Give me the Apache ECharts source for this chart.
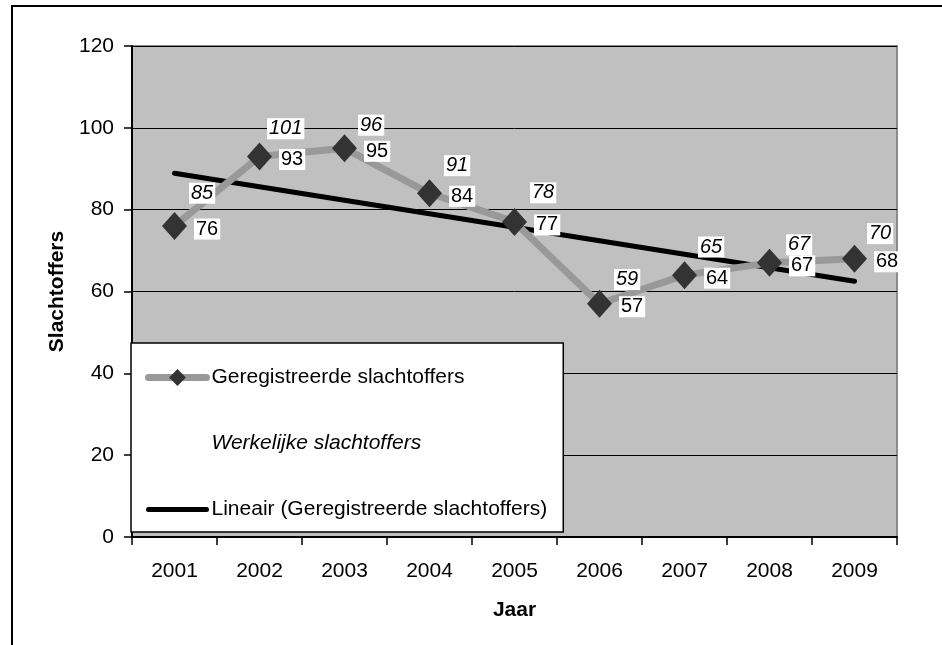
<!DOCTYPE html>
<html>
<head>
<meta charset="utf-8">
<title>Slachtoffers per jaar</title>
<script src="https://cdn.jsdelivr.net/npm/echarts@6/dist/echarts.min.js"></script>
<style>
  html, body { margin: 0; padding: 0; background: #ffffff; }
  #chart { width: 942px; height: 645px; }
</style>
</head>
<body>
<div id="chart"></div>
<script>
// Years on the category axis
const years = ['2001', '2002', '2003', '2004', '2005', '2006', '2007', '2008', '2009'];
// Registered victims (line with diamonds)
const registered = [76, 93, 95, 84, 77, 57, 64, 67, 68];
// Actual victims (labels only)
const actual = [85, 101, 96, 91, 78, 59, 65, 67, 70];
// Linear trend of the registered series, first and last year
const trendFirst = 88.9;
const trendLast = 62.5;
// Value axis ticks
const yTicks = [0, 20, 40, 60, 80, 100, 120];

// Hand-placed nudges for the italic labels so they clear the other labels
const actualLabelNudge = [[0, 4], [-7, 5], [-1, -19], [0, 1], [1, -25], [0, -16], [-1, -24], [2, -18], [-2, -17]];

const FONT = 'Arial, "Liberation Sans", sans-serif';

const trendData = years.map((y, i) => i === 0 ? trendFirst : (i === years.length - 1 ? trendLast : null));

const chart = echarts.init(document.getElementById('chart'), null, { renderer: 'canvas' });

chart.setOption({
  backgroundColor: '#ffffff',
  animation: false,
  textStyle: { fontFamily: FONT, color: '#000' },
  graphic: [{
    type: 'rect',
    z: 100,
    silent: true,
    shape: { x: 12, y: 6, width: 1000, height: 700 },
    style: { fill: 'none', stroke: '#000', lineWidth: 2 }
  }],
  grid: {
    left: 132, top: 46, right: 45, bottom: 108,
    show: true,
    backgroundColor: '#c0c0c0',
    borderColor: '#8c8c8c',
    borderWidth: 2
  },
  legend: {
    orient: 'vertical',
    left: 131,
    top: 343,
    padding: [24, 16, 12, 14],
    itemGap: 45,
    itemWidth: 58,
    itemHeight: 21,
    backgroundColor: '#ffffff',
    borderColor: '#000',
    borderWidth: 1.5,
    borderRadius: 0,
    selectedMode: false,
    textStyle: { fontFamily: FONT, fontSize: 21, color: '#000' },
    data: [
      {
        name: 'Geregistreerde slachtoffers',
        lineStyle: { width: 7, color: '#999999', cap: 'round' }
      },
      { name: 'Werkelijke slachtoffers', textStyle: { fontStyle: 'italic' } },
      {
        name: 'Lineair (Geregistreerde slachtoffers)',
        lineStyle: { width: 5, color: '#000000', cap: 'round' },
        itemStyle: { opacity: 0 }
      }
    ]
  },
  xAxis: {
    type: 'category',
    data: years,
    boundaryGap: true,
    name: 'Jaar',
    nameLocation: 'middle',
    nameGap: 63,
    nameTextStyle: { fontFamily: FONT, fontSize: 21, fontWeight: 'bold', color: '#000' },
    axisLine: { show: true, lineStyle: { color: '#000', width: 2 } },
    axisTick: { show: true, alignWithLabel: false, length: 8, lineStyle: { color: '#000', width: 1.5 } },
    axisLabel: { fontFamily: FONT, fontSize: 21, color: '#000', margin: 24 },
    splitLine: { show: false }
  },
  yAxis: {
    type: 'value',
    min: yTicks[0],
    max: yTicks[yTicks.length - 1],
    interval: yTicks[1] - yTicks[0],
    name: 'Slachtoffers',
    nameLocation: 'middle',
    nameGap: 64,
    nameTextStyle: { fontFamily: FONT, fontSize: 21, fontWeight: 'bold', color: '#000' },
    axisLine: { show: true, lineStyle: { color: '#000', width: 2 } },
    axisTick: { show: true, length: 8, lineStyle: { color: '#000', width: 1.5 } },
    axisLabel: { fontFamily: FONT, fontSize: 21, color: '#000', margin: 18 },
    splitLine: { show: true, lineStyle: { color: '#000', width: 1 } }
  },
  series: [
    {
      name: 'Geregistreerde slachtoffers',
      type: 'line',
      data: registered,
      z: 3,
      symbol: 'diamond',
      symbolSize: [25, 28],
      lineStyle: { color: '#999999', width: 7 },
      itemStyle: { color: '#333333', borderWidth: 0 },
      label: {
        show: true,
        position: 'right',
        distance: 7,
        offset: [0, 3],
        fontFamily: FONT,
        fontSize: 20,
        color: '#000',
        backgroundColor: '#ffffff',
        padding: [1, 2, 0, 2]
      }
    },
    {
      name: 'Werkelijke slachtoffers',
      type: 'line',
      z: 4,
      data: actual.map((v, i) => ({
        value: v,
        label: { offset: actualLabelNudge[i] }
      })),
      symbol: 'circle',
      symbolSize: 1,
      lineStyle: { color: 'rgba(0,0,0,0)', width: 0 },
      itemStyle: { color: 'rgba(0,0,0,0)' },
      label: {
        show: true,
        position: 'right',
        distance: 14,
        fontFamily: FONT,
        fontSize: 20,
        fontStyle: 'italic',
        color: '#000',
        backgroundColor: '#ffffff',
        padding: [1, 2, 0, 2]
      }
    },
    {
      name: 'Lineair (Geregistreerde slachtoffers)',
      type: 'line',
      z: 2,
      data: trendData,
      connectNulls: true,
      symbol: 'none',
      lineStyle: { color: '#000000', width: 5, cap: 'round' },
      itemStyle: { color: '#000000' }
    }
  ]
});
</script>
</body>
</html>
